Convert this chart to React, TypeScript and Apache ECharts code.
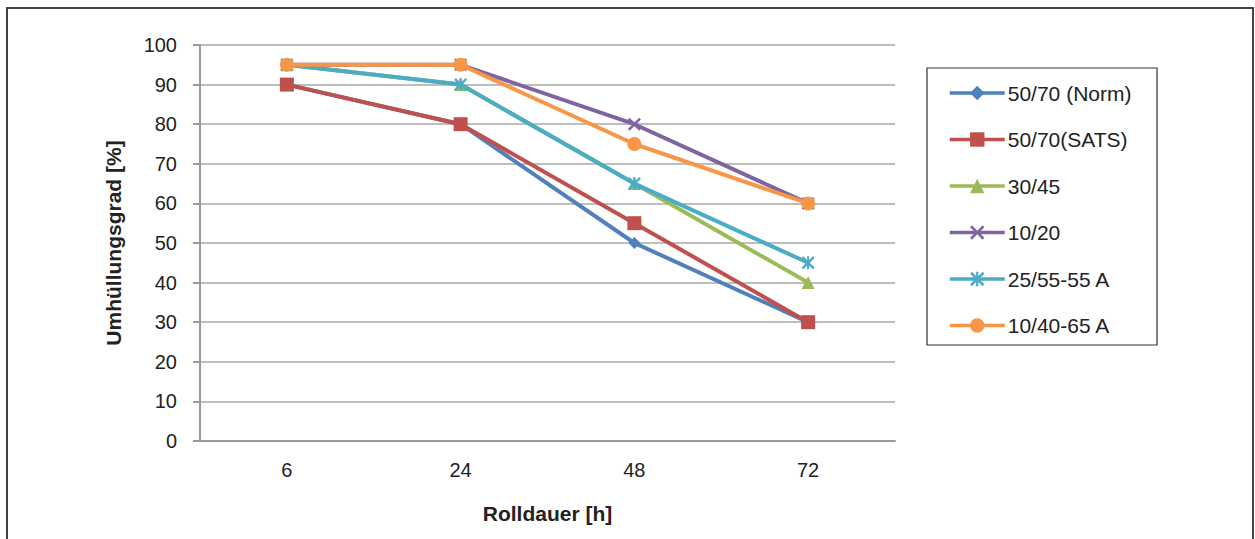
import React, { useEffect, useRef } from "react";
import * as echarts from "echarts";

const categories = ["6", "24", "48", "72"];
const seriesNames = ["50/70 (Norm)", "50/70(SATS)", "30/45", "10/20", "25/55-55 A", "10/40-65 A"];
const norm5070 = [90, 80, 50, 30];
const sats5070 = [90, 80, 55, 30];
const b3045 = [95, 90, 65, 40];
const b1020 = [95, 95, 80, 60];
const b2555 = [95, 90, 65, 45];
const b1040 = [95, 95, 75, 60];
const colors = ["#4F81BD", "#C0504D", "#9BBB59", "#8064A2", "#4BACC6", "#F79646"];

const X_SYMBOL =
  "path://M1.3,0 L5,3.7 L8.7,0 L10,1.3 L6.3,5 L10,8.7 L8.7,10 L5,6.3 L1.3,10 L0,8.7 L3.7,5 L0,1.3 Z";
const STAR_SYMBOL =
  "path://M1.3,0 L5,3.7 L8.7,0 L10,1.3 L6.3,5 L10,8.7 L8.7,10 L5,6.3 L1.3,10 L0,8.7 L3.7,5 L0,1.3 Z M4.2,0 L5.8,0 L5.8,10 L4.2,10 Z";

const FONT = "'Liberation Sans', Arial, sans-serif";

export default function App() {
  const ref = useRef<HTMLDivElement>(null);
  useEffect(() => {
    document.body.style.margin = "0";
    const chart = echarts.init(ref.current!, null, { renderer: "svg" });
    const data = [norm5070, sats5070, b3045, b1020, b2555, b1040];
    const symbols = ["diamond", "rect", "triangle", X_SYMBOL, STAR_SYMBOL, "circle"];
    const sizes = [12, 14, 13, 13, 13, 14];
    chart.setOption({
      animation: false,
      color: colors,
      textStyle: { fontFamily: FONT },
      grid: { left: 200, right: 360, top: 45, bottom: 98, containLabel: false },
      graphic: [
        {
          type: "rect",
          shape: { x: 7, y: 8, width: 1246, height: 545 },
          style: { fill: "none", stroke: "#444", lineWidth: 2 },
          silent: true,
        },
        {
          type: "rect",
          shape: { x: 927, y: 68, width: 230, height: 277 },
          style: { fill: "#fff", stroke: "#333", lineWidth: 1.2 },
          silent: true,
          z: -1,
        },
      ],
      legend: {
        orient: "vertical",
        left: 948,
        top: 82,
        itemWidth: 55,
        itemHeight: 18,
        itemGap: 24.5,
        padding: 0,
        lineStyle: { width: 3.5 },
        textStyle: { fontSize: 21, color: "#222", lineHeight: 22, padding: [0, 0, 0, -2] },
        data: seriesNames,
      },
      xAxis: {
        type: "category",
        data: categories,
        boundaryGap: true,
        name: "Rolldauer [h]",
        nameLocation: "middle",
        nameGap: 62,
        nameTextStyle: { fontSize: 21, fontWeight: "bold", color: "#222" },
        axisLine: { lineStyle: { color: "#9a9a9a", width: 2 } },
        axisTick: { show: false },
        axisLabel: { fontSize: 20, color: "#222", margin: 19 },
      },
      yAxis: {
        type: "value",
        min: 0,
        max: 100,
        interval: 10,
        name: "Umhüllungsgrad [%]",
        nameLocation: "middle",
        nameGap: 76,
        nameTextStyle: { fontSize: 21, fontWeight: "bold", color: "#222" },
        axisLine: { show: true, lineStyle: { color: "#9a9a9a", width: 2 } },
        axisTick: { show: true, length: 7, lineStyle: { color: "#9a9a9a", width: 2 } },
        axisLabel: { fontSize: 20, color: "#222", margin: 23 },
        splitLine: { lineStyle: { color: "#a8a8a8", width: 1.5 } },
      },
      series: seriesNames.map((name, i) => ({
        name,
        type: "line",
        data: data[i],
        symbol: symbols[i],
        symbolSize: sizes[i],
        showSymbol: true,
        lineStyle: { width: 4, color: colors[i] },
        itemStyle: { color: colors[i] },
        z: 2 + i,
      })),
    });
    return () => chart.dispose();
  }, []);
  return <div ref={ref} style={{ width: 1255, height: 539 }} />;
}
